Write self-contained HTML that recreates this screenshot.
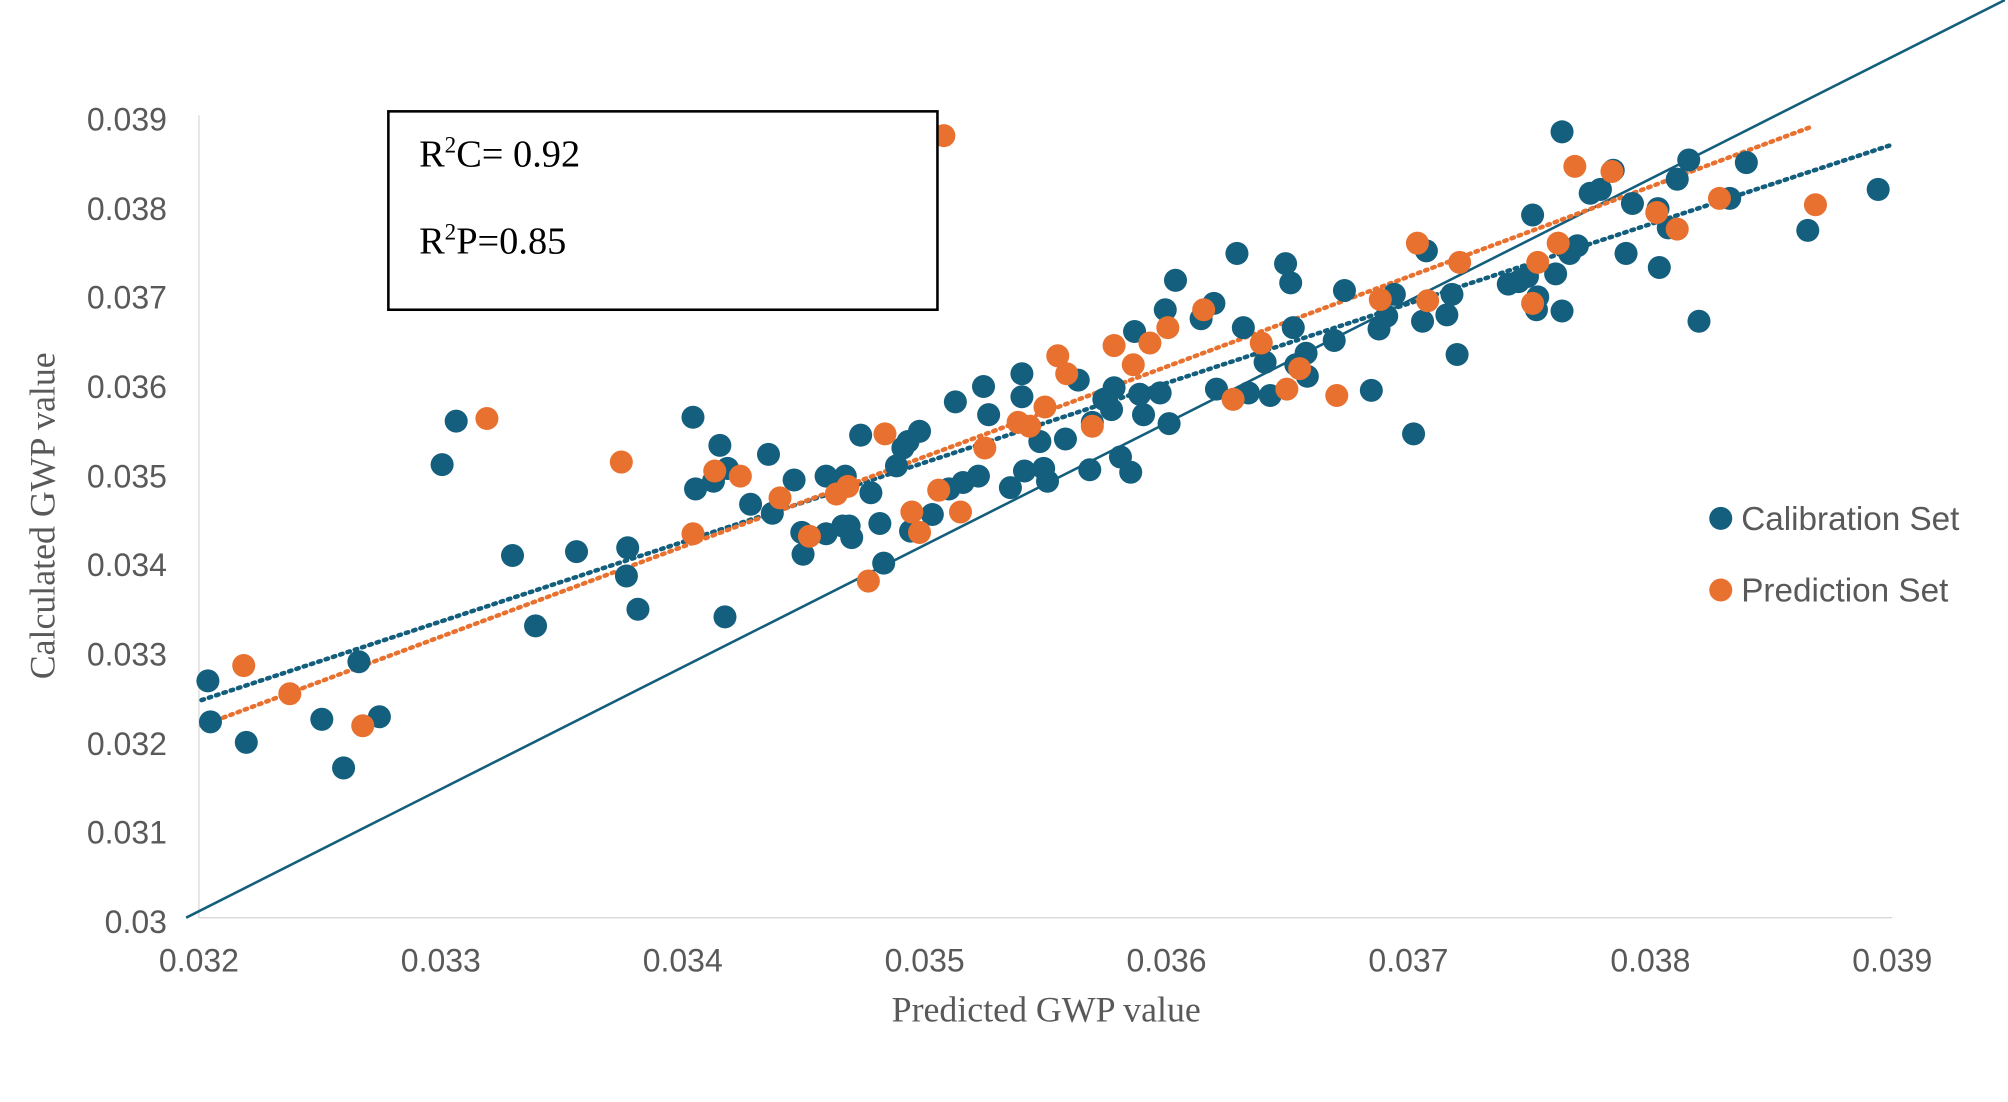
<!DOCTYPE html>
<html><head><meta charset="utf-8"><style>html,body{margin:0;padding:0;background:#fff}svg{display:block}</style></head>
<body>
<svg width="2008" height="1102" viewBox="0 0 1568 861" xmlns="http://www.w3.org/2000/svg">
<rect width="1568" height="861" fill="#fff"/>
<line x1="155" y1="90" x2="155" y2="717" stroke="#d9d9d9" stroke-width="1"/>
<line x1="155" y1="717" x2="1478" y2="717" stroke="#d9d9d9" stroke-width="1"/>
<g font-family="Liberation Sans, sans-serif" font-size="25" fill="#595959" text-anchor="end">
<text x="130" y="102">0.039</text><text x="130" y="172">0.038</text><text x="130" y="241">0.037</text>
<text x="130" y="311">0.036</text><text x="130" y="381">0.035</text><text x="130" y="450">0.034</text>
<text x="130" y="520">0.033</text><text x="130" y="590">0.032</text><text x="130" y="659">0.031</text>
<text x="130" y="729">0.03</text>
</g>
<g font-family="Liberation Sans, sans-serif" font-size="25" fill="#595959" text-anchor="middle">
<text x="155" y="759">0.032</text><text x="344" y="759">0.033</text><text x="533" y="759">0.034</text>
<text x="722" y="759">0.035</text><text x="911" y="759">0.036</text><text x="1100" y="759">0.037</text>
<text x="1289" y="759">0.038</text><text x="1478" y="759">0.039</text>
</g>
<text x="817" y="798" font-family="Liberation Serif, serif" font-size="28" fill="#595959" text-anchor="middle">Predicted GWP value</text>
<text transform="translate(42,403) rotate(-90)" font-family="Liberation Serif, serif" font-size="28" fill="#595959" text-anchor="middle">Calculated  GWP value</text>
<line x1="145" y1="717" x2="1566" y2="0" stroke="#135e7c" stroke-width="2"/>
<line x1="157" y1="547" x2="1478" y2="113" stroke="#135e7c" stroke-width="3.5" stroke-dasharray="2,4" stroke-linecap="round"/>
<line x1="157" y1="567" x2="1415" y2="99" stroke="#e8712f" stroke-width="3.5" stroke-dasharray="2,4" stroke-linecap="round"/>
<g fill="#145f7e">
<circle cx="162" cy="532" r="9"/><circle cx="164" cy="564" r="9"/><circle cx="192" cy="580" r="9"/><circle cx="251" cy="562" r="9"/><circle cx="268" cy="600" r="9"/><circle cx="280" cy="517" r="9"/><circle cx="296" cy="560" r="9"/><circle cx="345" cy="363" r="9"/><circle cx="356" cy="329" r="9"/><circle cx="400" cy="434" r="9"/><circle cx="418" cy="489" r="9"/><circle cx="450" cy="431" r="9"/><circle cx="489" cy="450" r="9"/><circle cx="490" cy="428" r="9"/><circle cx="498" cy="476" r="9"/><circle cx="541" cy="326" r="9"/><circle cx="543" cy="382" r="9"/><circle cx="557" cy="376" r="9"/><circle cx="562" cy="348" r="9"/><circle cx="566" cy="482" r="9"/><circle cx="568" cy="366" r="9"/><circle cx="586" cy="394" r="9"/><circle cx="600" cy="355" r="9"/><circle cx="603" cy="401" r="9"/><circle cx="620" cy="375" r="9"/><circle cx="626" cy="416" r="9"/><circle cx="627" cy="433" r="9"/><circle cx="645" cy="372" r="9"/><circle cx="645" cy="417" r="9"/><circle cx="658" cy="411" r="9"/><circle cx="660" cy="372" r="9"/><circle cx="663" cy="411" r="9"/><circle cx="665" cy="420" r="9"/><circle cx="672" cy="340" r="9"/><circle cx="680" cy="385" r="9"/><circle cx="687" cy="409" r="9"/><circle cx="690" cy="440" r="9"/><circle cx="700" cy="364" r="9"/><circle cx="705" cy="350" r="9"/><circle cx="709" cy="345" r="9"/><circle cx="718" cy="337" r="9"/><circle cx="711" cy="415" r="9"/><circle cx="728" cy="402" r="9"/><circle cx="741" cy="382" r="9"/><circle cx="746" cy="314" r="9"/><circle cx="752" cy="377" r="9"/><circle cx="764" cy="372" r="9"/><circle cx="768" cy="302" r="9"/><circle cx="772" cy="324" r="9"/><circle cx="789" cy="381" r="9"/><circle cx="798" cy="292" r="9"/><circle cx="798" cy="310" r="9"/><circle cx="800" cy="368" r="9"/><circle cx="812" cy="345" r="9"/><circle cx="815" cy="366" r="9"/><circle cx="818" cy="376" r="9"/><circle cx="832" cy="343" r="9"/><circle cx="842" cy="297" r="9"/><circle cx="851" cy="367" r="9"/><circle cx="853" cy="330" r="9"/><circle cx="862" cy="312" r="9"/><circle cx="868" cy="320" r="9"/><circle cx="870" cy="303" r="9"/><circle cx="875" cy="357" r="9"/><circle cx="883" cy="369" r="9"/><circle cx="886" cy="259" r="9"/><circle cx="890" cy="308" r="9"/><circle cx="893" cy="324" r="9"/><circle cx="906" cy="307" r="9"/><circle cx="910" cy="242" r="9"/><circle cx="913" cy="331" r="9"/><circle cx="918" cy="219" r="9"/><circle cx="938" cy="249" r="9"/><circle cx="948" cy="237" r="9"/><circle cx="950" cy="304" r="9"/><circle cx="966" cy="198" r="9"/><circle cx="971" cy="256" r="9"/><circle cx="975" cy="307" r="9"/><circle cx="988" cy="283" r="9"/><circle cx="992" cy="309" r="9"/><circle cx="1004" cy="206" r="9"/><circle cx="1008" cy="221" r="9"/><circle cx="1010" cy="256" r="9"/><circle cx="1012" cy="285" r="9"/><circle cx="1020" cy="276" r="9"/><circle cx="1021" cy="294" r="9"/><circle cx="1042" cy="266" r="9"/><circle cx="1050" cy="227" r="9"/><circle cx="1071" cy="305" r="9"/><circle cx="1077" cy="257" r="9"/><circle cx="1083" cy="247" r="9"/><circle cx="1089" cy="230" r="9"/><circle cx="1104" cy="339" r="9"/><circle cx="1111" cy="251" r="9"/><circle cx="1114" cy="196" r="9"/><circle cx="1130" cy="246" r="9"/><circle cx="1134" cy="230" r="9"/><circle cx="1138" cy="277" r="9"/><circle cx="1178" cy="222" r="9"/><circle cx="1186" cy="220" r="9"/><circle cx="1193" cy="216" r="9"/><circle cx="1197" cy="168" r="9"/><circle cx="1200" cy="242" r="9"/><circle cx="1201" cy="232" r="9"/><circle cx="1215" cy="214" r="9"/><circle cx="1220" cy="103" r="9"/><circle cx="1220" cy="243" r="9"/><circle cx="1226" cy="198" r="9"/><circle cx="1232" cy="192" r="9"/><circle cx="1242" cy="151" r="9"/><circle cx="1250" cy="148" r="9"/><circle cx="1260" cy="133" r="9"/><circle cx="1270" cy="198" r="9"/><circle cx="1275" cy="159" r="9"/><circle cx="1295" cy="163" r="9"/><circle cx="1296" cy="209" r="9"/><circle cx="1303" cy="178" r="9"/><circle cx="1310" cy="140" r="9"/><circle cx="1319" cy="125" r="9"/><circle cx="1327" cy="251" r="9"/><circle cx="1351" cy="155" r="9"/><circle cx="1364" cy="127" r="9"/><circle cx="1412" cy="180" r="9"/><circle cx="1467" cy="148" r="9"/>
</g>
<g fill="#e8712f">
<circle cx="190" cy="520" r="9"/><circle cx="226" cy="542" r="9"/><circle cx="283" cy="567" r="9"/><circle cx="380" cy="327" r="9"/><circle cx="485" cy="361" r="9"/><circle cx="541" cy="417" r="9"/><circle cx="558" cy="368" r="9"/><circle cx="578" cy="372" r="9"/><circle cx="609" cy="389" r="9"/><circle cx="632" cy="419" r="9"/><circle cx="653" cy="386" r="9"/><circle cx="662" cy="380" r="9"/><circle cx="678" cy="454" r="9"/><circle cx="691" cy="339" r="9"/><circle cx="712" cy="400" r="9"/><circle cx="718" cy="416" r="9"/><circle cx="733" cy="383" r="9"/><circle cx="737" cy="106" r="9"/><circle cx="750" cy="400" r="9"/><circle cx="769" cy="350" r="9"/><circle cx="795" cy="330" r="9"/><circle cx="804" cy="333" r="9"/><circle cx="816" cy="318" r="9"/><circle cx="826" cy="278" r="9"/><circle cx="833" cy="292" r="9"/><circle cx="853" cy="333" r="9"/><circle cx="870" cy="270" r="9"/><circle cx="885" cy="285" r="9"/><circle cx="898" cy="268" r="9"/><circle cx="912" cy="256" r="9"/><circle cx="940" cy="242" r="9"/><circle cx="963" cy="312" r="9"/><circle cx="985" cy="268" r="9"/><circle cx="1005" cy="304" r="9"/><circle cx="1015" cy="288" r="9"/><circle cx="1044" cy="309" r="9"/><circle cx="1078" cy="234" r="9"/><circle cx="1107" cy="190" r="9"/><circle cx="1115" cy="235" r="9"/><circle cx="1140" cy="205" r="9"/><circle cx="1197" cy="237" r="9"/><circle cx="1201" cy="205" r="9"/><circle cx="1217" cy="190" r="9"/><circle cx="1230" cy="130" r="9"/><circle cx="1259" cy="134" r="9"/><circle cx="1294" cy="166" r="9"/><circle cx="1310" cy="179" r="9"/><circle cx="1343" cy="155" r="9"/><circle cx="1418" cy="160" r="9"/>
</g>
<rect x="303" y="87" width="429" height="155" fill="#fff" stroke="#000" stroke-width="2"/>
<text x="327" y="130" font-family="Liberation Serif, serif" font-size="30" fill="#000">R<tspan font-size="18" dy="-11">2</tspan><tspan dy="11">C= 0.92</tspan></text>
<text x="327" y="198" font-family="Liberation Serif, serif" font-size="30" fill="#000">R<tspan font-size="18" dy="-11">2</tspan><tspan dy="11">P=0.85</tspan></text>
<circle cx="1344" cy="405" r="9" fill="#145f7e"/>
<circle cx="1344" cy="461" r="9" fill="#e8712f"/>
<g font-family="Liberation Sans, sans-serif" font-size="26" fill="#595959">
<text x="1360" y="414">Calibration Set</text><text x="1360" y="470">Prediction Set</text>
</g>
</svg>
</body></html>
